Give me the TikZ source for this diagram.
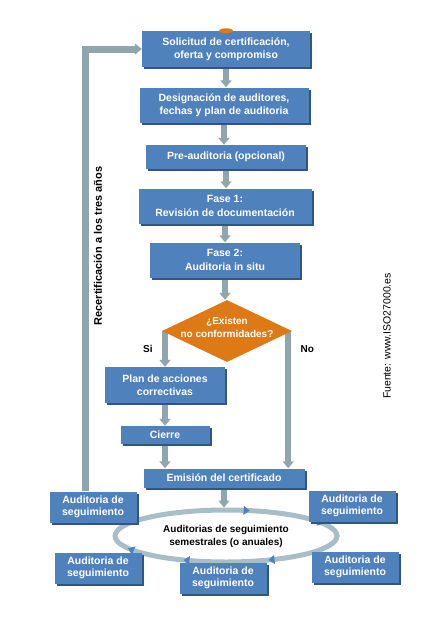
\documentclass[tikz,border=0pt]{standalone}
\usepackage{fontspec}
\setmainfont{Liberation Sans}
\usetikzlibrary{arrows.meta,shapes.geometric,shadows,decorations.markings,backgrounds}

\definecolor{boxblue}{RGB}{79,129,189}
\definecolor{boxedge}{RGB}{50,86,132}
\definecolor{flowgray}{RGB}{143,166,172}
\definecolor{diaorange}{RGB}{221,122,22}
\definecolor{ringgray}{RGB}{168,190,198}

\tikzset{
  paso/.style={fill=boxblue, text=white, align=center, inner sep=1pt,
    font=\bfseries\fontsize{10.5}{13.5}\selectfont,
    drop shadow={shadow xshift=2pt, shadow yshift=-2pt, opacity=1, fill=boxedge}},
  decision/.style={diamond, aspect=2.1, fill=diaorange, text=white, align=center,
    inner xsep=-10pt, inner ysep=-4pt, minimum width=130pt, minimum height=62pt,
    text depth=8pt, font=\bfseries\fontsize{10}{13}\selectfont},
  flujo/.style={draw=flowgray, line width=6pt, -{Triangle[width=11pt,length=7pt]}},
  etiqueta/.style={font=\bfseries\fontsize{10}{12}\selectfont, text=black},
}

\begin{document}
\begin{tikzpicture}[x=1pt,y=-1pt]
  \useasboundingbox (0,0) rectangle (440,622);

  % pasos del proceso
  \node[paso, minimum width=168pt, minimum height=36pt] (solic) at (226,49) {Solicitud de certificación,\\oferta y compromiso};
  \node[paso, minimum width=169pt, minimum height=35pt] (desig) at (224,105) {Designación de auditores,\\fechas y plan de auditoria};
  \node[paso, minimum width=160pt, minimum height=24pt] (pre) at (226,157) {Pre-auditoria (opcional)};
  \node[paso, minimum width=173pt, minimum height=35pt] (fase1) at (225,206) {Fase 1:\\Revisión de documentación};
  \node[paso, minimum width=150pt, minimum height=35pt] (fase2) at (225,260) {Fase 2:\\Auditoria in situ};
  \node[decision] (dia) at (227,331) {¿Existen\\no conformidades?};
  \node[paso, minimum width=120pt, minimum height=36pt] (plan) at (165,385) {Plan de acciones\\correctivas};
  \node[paso, minimum width=89pt, minimum height=18pt] (cierre) at (165,435) {Cierre};
  \node[paso, minimum width=161pt, minimum height=19pt] (emision) at (224,478) {Emisión del certificado};
  \fill[diaorange] (solic.north) ellipse [x radius=7, y radius=2.5];

  % ciclo de seguimiento
  \node[ellipse, draw=ringgray, line width=5pt, fill=white, minimum width=222pt, minimum height=52pt,
    inner sep=0pt, align=center, font=\bfseries\fontsize{10}{13}\selectfont,
    postaction={decorate, decoration={markings,
      mark=at position 0.04 with {\arrowreversed[color=boxblue]{Triangle[width=9pt,length=6pt]}},
      mark=at position 0.2 with {\arrowreversed[color=boxblue]{Triangle[width=9pt,length=6pt]}},
      mark=at position 0.54 with {\arrowreversed[color=boxblue]{Triangle[width=9pt,length=6pt]}},
      mark=at position 0.66 with {\arrowreversed[color=boxblue]{Triangle[width=9pt,length=6pt]}},
      mark=at position 0.84 with {\arrowreversed[color=boxblue]{Triangle[width=9pt,length=6pt]}}}}]
    (ring) at (226,536) {Auditorias de seguimiento\\semestrales (o anuales)};
  \foreach \n/\x/\y in {1/93/507, 2/352/506, 3/98/568, 4/223/578, 5/355/567}
    \node[paso, minimum width=87pt, minimum height=31pt, font=\bfseries\fontsize{10.5}{12.5}\selectfont]
      (seg\n) at (\x,\y) {Auditoria de\\seguimiento};

  % conectores
  \begin{scope}[on background layer]
    \foreach \a/\b in {solic/desig, desig/pre, pre/fase1, fase1/fase2, fase2/dia, plan/cierre, cierre/emision}
      \draw[flujo] (\a.south) -- (\a.south |- \b.north);
    \draw[flujo] (plan.north |- dia.west) -- (plan.north) node[etiqueta, midway, left=6pt] {Si};
    \draw[flujo] ([xshift=-4pt]dia.east) -- ([xshift=-4pt]dia.east |- emision.north)
      node[etiqueta, pos=0.13, right=6pt] {No};
    \draw[flujo] (emision.south) -- (emision.south |- ring.north);
    \draw[flujo, line width=7pt] ([xshift=-8pt]seg1.north) |- (solic.west);
  \end{scope}

  \node[rotate=90, font=\bfseries\fontsize{11}{13}\selectfont] (recert) at (98,246) {Recertificación a los tres años};
  \node[rotate=90, font=\fontsize{10.5}{12}\selectfont] (fuente) at (387,336) {Fuente: www.ISO27000.es};
\end{tikzpicture}
\end{document}
